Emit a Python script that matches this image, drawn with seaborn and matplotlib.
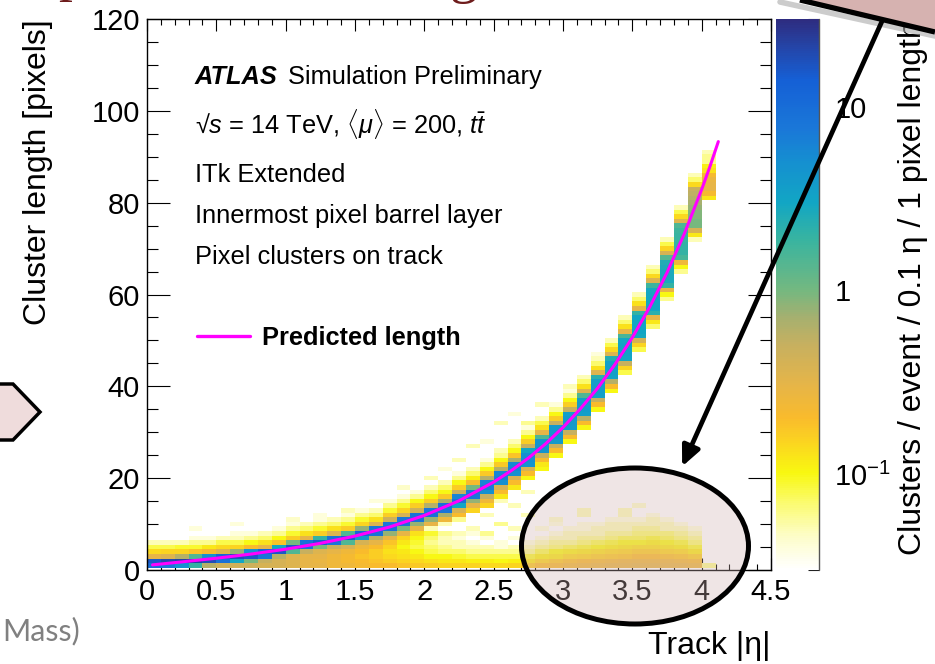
import numpy as np
import pandas as pd
import matplotlib
matplotlib.use("Agg")
import matplotlib.pyplot as plt
import seaborn as sns
from matplotlib.colors import LinearSegmentedColormap, LogNorm
from matplotlib.patches import Ellipse, Polygon, FancyArrowPatch
from matplotlib.lines import Line2D
from matplotlib.ticker import MultipleLocator, LogLocator, NullFormatter, FuncFormatter

# ---------------------------------------------------------------------------
# Data: clusters / event in bins of 0.1 in |eta| (41 columns, 0.0 - 4.1)
# and 1 pixel in cluster length.
# band_lo[i] is the first length bin listed in band_vals[i]; floor_vals[i]
# holds the short clusters starting at length 1.
# ---------------------------------------------------------------------------
band_lo = [1, 1, 1, 1, 1, 2, 2, 2, 2, 3,
           4, 4, 5, 5, 5, 6, 6, 7, 8, 9,
           10, 11, 12, 13, 14, 16, 18, 20, 22, 25,
           28, 31, 35, 39, 43, 48, 53, 59, 65, 72, 81]

band_vals = [
    [10, 16, 0.3, 0.14, 0.08, 0.05],
    [8, 20, 0.35, 0.15, 0.08, 0.05],
    [5, 22, 0.6, 0.15, 0.09, 0.05],
    [2, 22, 1.5, 0.18, 0.09, 0.06, 0.04],
    [0.6, 18, 5, 0.22, 0.12, 0.06, 0.04],
    [9, 12, 0.35, 0.14, 0.08, 0.05],
    [3, 18, 0.8, 0.15, 0.08, 0.05, 0.04],
    [1, 16, 5, 0.2, 0.1, 0.06, 0.04],
    [0.5, 8, 12, 0.3, 0.13, 0.07, 0.05],
    [0.6, 16, 3, 0.18, 0.1, 0.06, 0.04],
    [1.5, 16, 1, 0.16, 0.09, 0.06, 0.04],
    [0.5, 9, 9, 0.3, 0.13, 0.07, 0.05],
    [1, 15, 2, 0.16, 0.09, 0.06, 0.04],
    [0.5, 8, 9, 0.35, 0.13, 0.07, 0.05],
    [0.4, 1.5, 15, 1.5, 0.16, 0.09, 0.06, 0.04],
    [0.4, 4, 12, 0.8, 0.15, 0.09, 0.06, 0.04],
    [0.3, 0.6, 9, 8, 0.35, 0.13, 0.07, 0.05],
    [0.3, 0.8, 9, 8, 0.45, 0.16, 0.09, 0.06, 0.04],
    [0.3, 1, 9, 8, 0.4, 0.15, 0.09, 0.06, 0.04],
    [0.3, 0.8, 9, 9, 0.45, 0.16, 0.1, 0.06, 0.04],
    [0.3, 0.8, 9, 8, 0.6, 0.16, 0.1, 0.07, 0.05],
    [0.25, 0.7, 8, 9, 0.7, 0.17, 0.1, 0.07, 0.05],
    [0.2, 0.4, 3, 9, 6, 0.5, 0.16, 0.1, 0.06, 0.04],
    [0.15, 0.3, 0.8, 8, 8, 1, 0.2, 0.11, 0.07, 0.05],
    [0.15, 0.25, 0.5, 5, 7, 6, 0.6, 0.17, 0.1, 0.06, 0.04],
    [0.12, 0.2, 0.4, 5, 6.5, 6, 0.6, 0.17, 0.1, 0.06, 0.05],
    [0.12, 0.2, 0.4, 5, 6, 5.5, 0.7, 0.18, 0.1, 0.07, 0.05],
    [0.1, 0.2, 0.4, 4.5, 5, 5, 3, 0.5, 0.16, 0.1, 0.06, 0.04],
    [0.1, 0.12, 0.2, 0.5, 4.5, 4.5, 4.5, 1.5, 0.3, 0.13, 0.08, 0.05],
    [0.1, 0.2, 0.5, 4, 4.5, 4.5, 4, 0.5, 0.16, 0.1, 0.06, 0.04],
    [0.1, 0.2, 0.5, 3.8, 4, 4, 3.5, 0.5, 0.16, 0.1, 0.06, 0.04],
    [0.1, 0.2, 0.6, 3.5, 3.8, 3.8, 3.6, 1.5, 0.35, 0.13, 0.07, 0.05],
    [0.1, 0.2, 0.5, 3.4, 3.6, 3.6, 3.5, 2.2, 0.35, 0.13, 0.07, 0.05],
    [0.1, 0.2, 0.6, 3.2, 3.4, 3.4, 3.3, 2.4, 0.35, 0.14, 0.08, 0.05],
    [0.08, 0.15, 0.5, 3, 3.2, 3.2, 3.2, 3, 1.6, 0.3, 0.13, 0.07, 0.05],
    [0.08, 0.15, 0.4, 2.8, 3.1, 3.1, 3, 3, 2, 0.3, 0.13, 0.07, 0.05],
    [0.07, 0.12, 0.3, 2.2, 3, 3, 3, 2.9, 2.8, 1.8, 0.35, 0.14, 0.07, 0.05],
    [0.06, 0.1, 0.3, 2, 2.7, 2.7, 2.7, 2.6, 2.5, 1.4, 0.4, 0.15, 0.08, 0.05],
    [0.06, 0.1, 0.25, 1.6, 2, 2, 2, 1.9, 1.9, 1.8, 1.5, 0.35, 0.14, 0.08, 0.05],
    [0.05, 0.12, 0.4, 1, 1, 0.9, 0.9, 0.8, 0.7, 0.6, 0.55, 0.5, 0.14, 0.07, 0.05],
    [0.12, 0.22, 0.3, 0.3, 0.28, 0.22, 0.13, 0.11, 0.06, 0.06, 0.05],
]

floor_vals = [
    [], [], [], [], [],
    [0.45], [0.45], [0.45], [0.4], [0.4, 0.4],
    [0.35, 0.35, 0.35], [0.3, 0.3, 0.3], [0.3, 0.28, 0.3, 0.35],
    [0.25, 0.25, 0.25, 0.3], [0.25, 0.22, 0.22, 0.25],
    [0.22, 0.2, 0.18, 0.2, 0.25], [0.2, 0.18, 0.16, 0.16, 0.2],
    [0.2, 0.16, 0.14, 0.13, 0.15, 0.18],
    [0.18, 0.15, 0.13, 0.12, 0.1, 0.12, 0.15],
    [0.17, 0.14, 0.12, 0.1, 0.08, 0.09, 0.1, 0.13],
    [0.16, 0.13, 0.1, 0.08, 0.07, 0.06, 0.07, 0.09],
    [0.15, 0.12, 0.1, 0.07, 0.06, 0.05, 0.05, 0.06],
    [0.15, 0.12, 0.09, 0.07, 0.05, 0.05, 0.04, 0.05],
    [0.15, 0.11, 0.08, 0.06, 0.05, 0.04, 0, 0.04],
    [0.14, 0.11, 0.08, 0.06, 0.05, 0, 0.04, 0],
    [0.14, 0.1, 0.08, 0.06, 0.04, 0.04, 0, 0],
    [0.15, 0.11, 0.08, 0.06, 0.05, 0, 0.04, 0],
    [0.17, 0.12, 0.09, 0.06, 0.05, 0.04, 0, 0],
    [0.2, 0.15, 0.11, 0.08, 0.06, 0.05, 0.04, 0, 0.04],
    [0.22, 0.17, 0.12, 0.1, 0.07, 0.06, 0.05, 0.04, 0, 0.04],
    [0.24, 0.19, 0.14, 0.11, 0.08, 0.06, 0.05, 0.05, 0.04],
    [0.26, 0.21, 0.15, 0.12, 0.09, 0.07, 0.06, 0.05, 0.04, 0.04, 0, 0.05],
    [0.28, 0.23, 0.16, 0.13, 0.1, 0.08, 0.06, 0.05, 0.05, 0.04],
    [0.3, 0.25, 0.17, 0.14, 0.11, 0.09, 0.07, 0.06, 0.05, 0.05, 0.04],
    [0.3, 0.26, 0.18, 0.15, 0.12, 0.1, 0.08, 0.06, 0.05, 0.05, 0.04, 0.05],
    [0.32, 0.27, 0.2, 0.16, 0.13, 0.1, 0.08, 0.07, 0.06, 0.05, 0.04],
    [0.32, 0.27, 0.2, 0.16, 0.13, 0.11, 0.09, 0.07, 0.06, 0.05, 0.05, 0.04],
    [0.3, 0.26, 0.19, 0.15, 0.12, 0.1, 0.08, 0.07, 0.05, 0.05, 0.04],
    [0.3, 0.25, 0.18, 0.14, 0.11, 0.09, 0.07, 0.06, 0.05, 0.04],
    [0.28, 0.23, 0.16, 0.12, 0.09, 0.07, 0.06, 0.05, 0.04],
    [0.06],
]

# isolated low-occupancy bins: column, length, clusters/event
speck_col = [3, 6, 10, 12, 14, 16, 18, 20, 21, 22, 23, 24, 25, 26,
             27, 28, 29, 30, 31, 32, 33, 34, 36, 38, 35, 37,
             20, 21, 22, 23, 24, 25, 26, 27, 25, 26, 27, 24, 19, 18]
speck_len = [9, 10, 11, 12, 13, 15, 18, 20, 22, 24, 27, 28, 32, 34,
             32, 36, 11, 40, 13, 47, 10, 13, 12, 9, 14, 11,
             9, 10, 11, 9, 12, 10, 14, 12, 15, 9, 17, 8, 8, 9]
speck_val = [0.04, 0.04, 0.045, 0.04, 0.05, 0.04, 0.045, 0.05, 0.04, 0.05,
             0.05, 0.04, 0.05, 0.04, 0.06, 0.05, 0.045, 0.05, 0.05, 0.04,
             0.05, 0.05, 0.05, 0.06, 0.045, 0.05,
             0.05, 0.05, 0.06, 0.05, 0.05, 0.06, 0.05, 0.05, 0.05, 0.05,
             0.05, 0.06, 0.05, 0.05]

# predicted cluster length along the track
curve_eta = [0.04, 0.25, 0.5, 0.75, 1.0, 1.25, 1.5, 1.75, 2.0, 2.25, 2.5,
             2.625, 2.75, 2.875, 3.0, 3.125, 3.25, 3.375, 3.5, 3.625, 3.75,
             3.875, 4.0, 4.06, 4.12]
curve_len = [1.12, 1.76, 2.56, 3.47, 4.53, 5.81, 7.39, 9.37, 11.88, 15.07,
             19.15, 21.6, 24.37, 27.5, 31.05, 35.1, 39.61, 44.79, 50.63,
             57.25, 64.76, 73.24, 82.87, 87.9, 93.3]

cbar_ticks = [0.1, 1, 10]
cbar_ticklabels = [r"$10^{-1}$", "1", "10"]

# ---------------------------------------------------------------------------
cells = {}
for i, vals in enumerate(floor_vals):
    for k, v in enumerate(vals):
        if v > 0:
            cells[(i, k + 1)] = v
for i, (lo, vals) in enumerate(zip(band_lo, band_vals)):
    for k, v in enumerate(vals):
        if v > 0:
            cells[(i, lo + k)] = v
for c, L, v in zip(speck_col, speck_len, speck_val):
    cells.setdefault((c, L), v)

df = pd.DataFrame(
    [(0.05 + 0.1 * i, L, v) for (i, L), v in cells.items()],
    columns=["eta", "length", "w"],
)

W, H = 935, 664


def fx(x):
    return x / W


def fy(y):
    return 1 - y / H


sns.set_theme(style="ticks")
plt.rcParams["font.family"] = ["Liberation Sans", "DejaVu Sans"]
plt.rcParams["mathtext.fontset"] = "custom"
plt.rcParams["mathtext.rm"] = "Liberation Sans"
plt.rcParams["mathtext.it"] = "Liberation Sans:italic"
plt.rcParams["mathtext.bf"] = "Liberation Sans:bold"
plt.rcParams["axes.linewidth"] = 1.0
plt.rcParams["axes.edgecolor"] = "black"
plt.rcParams["text.color"] = "black"
plt.rcParams["xtick.color"] = "black"
plt.rcParams["ytick.color"] = "black"
plt.rcParams["xtick.labelcolor"] = "black"
plt.rcParams["ytick.labelcolor"] = "black"

fig = plt.figure(figsize=(W / 100, H / 100), dpi=100, facecolor="white")

cmap = LinearSegmentedColormap.from_list("bird_white", [
    (0.000, "#ffffff"),
    (0.060, "#fdfdc8"),
    (0.120, "#fbfb70"),
    (0.175, "#f8f810"),
    (0.230, "#fbd520"),
    (0.275, "#f9bb2c"),
    (0.335, "#e6b548"),
    (0.410, "#c6b060"),
    (0.460, "#a4b070"),
    (0.508, "#74b880"),
    (0.600, "#38b4a0"),
    (0.667, "#12a6c4"),
    (0.740, "#1590d0"),
    (0.800, "#1a78d8"),
    (0.890, "#1560d6"),
    (0.950, "#2445a8"),
    (1.000, "#2e2c80"),
])
norm = LogNorm(vmin=0.03, vmax=30)

ax = fig.add_axes([fx(147), fy(570), (771 - 147) / W, (570 - 19) / H])
x_edges = np.linspace(0, 4.5, 46)
y_edges = np.arange(-0.5, 121.0, 1.0)
sns.histplot(data=df, x="eta", y="length", weights="w",
             bins=[x_edges, y_edges], cmap=cmap, ax=ax, cbar=False)
mesh = ax.collections[0]
mesh.set_norm(norm)

sns.lineplot(x=curve_eta, y=curve_len, color="#ff00ff", lw=2.2, ax=ax,
             sort=False, estimator=None)

ax.set_xlim(0, 4.5)
ax.set_ylim(0, 120)
ax.set_xlabel("")
ax.set_ylabel("")
ax.grid(False)
ax.set_facecolor("white")
ax.xaxis.set_major_locator(MultipleLocator(0.5))
ax.xaxis.set_minor_locator(MultipleLocator(0.1))
ax.yaxis.set_major_locator(MultipleLocator(20))
ax.yaxis.set_minor_locator(MultipleLocator(5))
ax.xaxis.set_major_formatter(FuncFormatter(lambda v, _: f"{v:g}"))
ax.yaxis.set_major_formatter(FuncFormatter(lambda v, _: f"{v:g}"))
ax.tick_params(which="both", direction="in", top=True, right=True,
               colors="black", width=0.8)
ax.tick_params(axis="x", which="major", length=8.6, labelsize=21, pad=6)
ax.tick_params(axis="x", which="minor", length=4.3)
ax.tick_params(axis="y", which="major", length=16.5, labelsize=21, pad=5)
ax.tick_params(axis="y", which="minor", length=8)
for s in ax.spines.values():
    s.set_visible(True)
    s.set_color("black")
    s.set_linewidth(1.0)

# colour scale
cax = fig.add_axes([fx(776), fy(570), 43 / W, (570 - 19) / H])
cb = fig.colorbar(mesh, cax=cax)
cb.outline.set_visible(False)
cax.yaxis.set_ticks_position("right")
cb.set_ticks(cbar_ticks)
cb.set_ticklabels(cbar_ticklabels)
cax.yaxis.set_minor_locator(LogLocator(base=10, subs=np.arange(2, 10)))
cax.yaxis.set_minor_formatter(NullFormatter())
cax.tick_params(which="both", direction="in", colors="#222222",
                labelcolor="black", width=0.8)
cax.tick_params(which="major", length=16.5, labelsize=21, pad=11)
cax.tick_params(which="minor", length=8)
cax.plot([1, 1], [0, 1], transform=cax.transAxes, color="#555555", lw=1.0,
         clip_on=False)

# axis titles
fig.text(fx(38), fy(19), "Cluster length [pixels]", rotation=90,
         rotation_mode="anchor", ha="right", va="center", fontsize=23)
fig.text(fx(771), fy(646), "Track |η|", ha="right", va="center", fontsize=23)
fig.text(fx(913), fy(555), "Clusters / event / 0.1 η / 1 pixel length",
         rotation=90, rotation_mode="anchor", ha="left", va="center",
         fontsize=23)

# labels inside the frame
fs = 18.3
fig.text(fx(195), fy(84), "ATLAS", fontsize=fs, weight="bold", style="italic",
         va="baseline")
fig.text(fx(288), fy(84), "Simulation Preliminary", fontsize=fs, va="baseline")
fig.text(fx(195), fy(133),
         "√" + r"$s$" + " = 14 TeV, " + r"$\langle\mu\rangle$" + " = 200, "
         + r"$t\bar{t}$", fontsize=fs, va="baseline")
fig.text(fx(195), fy(182), "ITk Extended", fontsize=fs, va="baseline")
fig.text(fx(195), fy(223), "Innermost pixel barrel layer", fontsize=fs,
         va="baseline")
fig.text(fx(195), fy(264), "Pixel clusters on track", fontsize=fs,
         va="baseline")
fig.add_artist(Line2D([fx(197), fx(250)], [fy(336), fy(336)],
                      color="#ff00ff", lw=2.4))
fig.text(fx(262), fy(345), "Predicted length", fontsize=fs, weight="bold",
         va="baseline")

# slide decorations around the plot
maroon = "#6e1c1c"
fig.text(fx(58), fy(-10), "p", fontsize=40, family="Liberation Serif",
         color=maroon, va="baseline", zorder=5)
fig.text(fx(450), fy(-8), "g", fontsize=40, family="Liberation Serif",
         color=maroon, va="baseline", zorder=5)

fig.add_artist(Line2D([fx(780), fx(935)], [fy(2), fy(36)], color="#aaaaaa",
                      lw=4, alpha=0.6, zorder=11))
fig.add_artist(Polygon([(fx(800), fy(0)), (fx(935), fy(32)),
                        (fx(935), fy(-5)), (fx(800), fy(-5))],
                       closed=True, facecolor="#d6b2b0", edgecolor="none",
                       zorder=12))
fig.add_artist(Line2D([fx(800), fx(935)], [fy(0), fy(32)], color="black",
                      lw=3.8, solid_capstyle="butt", zorder=13))

fig.add_artist(Polygon([(fx(-5), fy(384)), (fx(13), fy(384)),
                        (fx(40), fy(412)), (fx(13), fy(440)),
                        (fx(-5), fy(440))], closed=True,
                       facecolor="#efdcdc", edgecolor="black", lw=2.5,
                       zorder=12))
fig.text(fx(2), fy(640), "Mass)", fontsize=22, family="Lato",
         color="#808080", va="baseline")

fig.add_artist(Ellipse((fx(635), fy(546)), width=227 / W, height=156 / H,
                       facecolor=(209 / 255, 179 / 255, 179 / 255, 0.33),
                       edgecolor="black", lw=3.6, zorder=14))
fig.add_artist(FancyArrowPatch((fx(883), fy(19)), (fx(681), fy(469)),
                               transform=fig.transFigure,
                               arrowstyle="-|>,head_length=12,head_width=5.5",
                               mutation_scale=1, color="black", lw=3.4,
                               zorder=15))

fig.savefig("out.png", dpi=100, facecolor="white")
